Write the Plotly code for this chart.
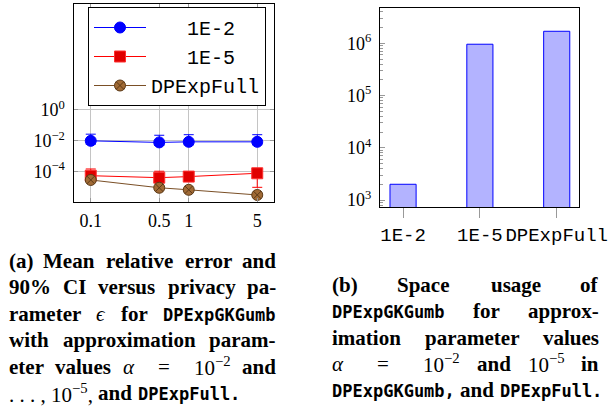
import re
import plotly.graph_objects as go

# ---------------- data ----------------
eps = [0.1, 0.5, 1, 5]
eps_labels = ["0.1", "0.5", "1", "5"]

err_1e2 = [0.0100, 0.0079, 0.0086, 0.0086]
err_1e2_hi = [0.027, 0.023, 0.025, 0.025]
err_1e2_lo = [0.006, 0.005, 0.0055, 0.0055]

err_1e5 = [5.5e-5, 4.1e-5, 4.8e-5, 7.9e-5]
err_1e5_hi = [1.5e-4, 1.07e-4, 1.0e-4, 1.0e-4]
err_1e5_lo = [3.5e-5, 2.6e-5, 3.0e-5, 9.7e-6]

err_full = [2.9e-5, 9.1e-6, 6.7e-6, 3.1e-6]

space_cats = ["1E-2", "1E-5", "DPExpFull"]
space_vals = [2000, 9.6e5, 1.7e6]

err_ticks = [1e-4, 1e-2, 1]
err_ticktext = ["10<sup>−4</sup>", "10<sup>−2</sup>", "10<sup>0</sup>"]
space_ticks = [1e3, 1e4, 1e5, 1e6]
space_ticktext = ["10<sup>3</sup>", "10<sup>4</sup>", "10<sup>5</sup>", "10<sup>6</sup>"]

# caption words per line (text, kind): b = bold serif, m = bold mono, r = regular math
cap_a_lines = [
    [("(a)", "b"), ("Mean", "b"), ("relative", "b"), ("error", "b"), ("and", "b")],
    [("90%", "b"), ("CI", "b"), ("versus", "b"), ("privacy", "b"), ("pa-", "b")],
    [("rameter", "b"), ("<i>ϵ</i>", "r"), ("for", "b"), ("DPExpGKGumb", "m")],
    [("with", "b"), ("approximation", "b"), ("param-", "b")],
    [("eter", "b"), ("values", "b"), ("<i>α</i>", "r"), ("=", "r"), ("10<sup>−2</sup>", "r"), ("and", "b")],
    [(". . . , 10<sup>−5</sup>,", "r"), ("and", "b"), ("DPExpFull.", "m")],
]
cap_b_lines = [
    [("(b)", "b"), ("Space", "b"), ("usage", "b"), ("of", "b")],
    [("DPExpGKGumb", "m"), ("for", "b"), ("approx-", "b")],
    [("imation", "b"), ("parameter", "b"), ("values", "b")],
    [("<i>α</i>", "r"), ("=", "r"), ("10<sup>−2</sup>", "r"), ("and", "b"), ("10<sup>−5</sup>", "r"), ("in", "b")],
    [("DPExpGKGumb,", "m"), ("and", "b"), ("DPExpFull.", "m")],
]

# ---------------- helpers ----------------
W, H = 609, 408


def px(x):
    return x / W


def py(y):
    return 1 - y / H


SERIF = "Liberation Serif"
MONO = "Liberation Mono"
CAPMONO = "DejaVu Sans Mono"
GRID = "#c4c4c4"
CAP_SIZE = 21
MONO_SIZE = 17

fig = go.Figure()

fig.add_trace(go.Scatter(
    x=eps, y=err_1e2, name="\u00a0\u00a0\u00a01E-2", mode="lines+markers",
    line=dict(color="#0000ff", width=1),
    marker=dict(symbol="circle", size=11, color="#0000ff", line=dict(color="#0000ff", width=1)),
    error_y=dict(type="data", symmetric=False,
                 array=[h - v for h, v in zip(err_1e2_hi, err_1e2)],
                 arrayminus=[v - l for v, l in zip(err_1e2, err_1e2_lo)],
                 color="#0000ff", thickness=1, width=5),
    xaxis="x", yaxis="y"))

fig.add_trace(go.Scatter(
    x=eps, y=err_1e5, name="\u00a0\u00a0\u00a01E-5", mode="lines+markers",
    line=dict(color="#ff0000", width=1),
    marker=dict(symbol="square", size=11, color="#e00000", line=dict(color="#ff3030", width=1)),
    error_y=dict(type="data", symmetric=False,
                 array=[h - v for h, v in zip(err_1e5_hi, err_1e5)],
                 arrayminus=[v - l for v, l in zip(err_1e5, err_1e5_lo)],
                 color="#ff0000", thickness=1, width=5),
    xaxis="x", yaxis="y"))

fig.add_trace(go.Scatter(
    x=eps, y=err_full, name="DPExpFull", mode="lines+markers",
    line=dict(color="#7a4f26", width=1),
    marker=dict(symbol="circle-x", size=11, color="#a06a35", line=dict(color="#5c3a18", width=1)),
    xaxis="x", yaxis="y"))

fig.add_trace(go.Bar(
    x=space_cats, y=space_vals, width=0.34, showlegend=False,
    marker=dict(color="rgb(179,179,255)", line=dict(color="#0000ff", width=1)),
    xaxis="x2", yaxis="y2"))

minor_vals = [k * 10 ** d for d in range(2, 7) for k in range(2, 10)]

fig.update_layout(
    width=W, height=H, margin=dict(l=0, r=0, t=0, b=0, autoexpand=False),
    paper_bgcolor="white", plot_bgcolor="white",
    showlegend=True,
    legend=dict(x=px(88), y=py(7), xanchor="left", yanchor="top",
                bgcolor="white", bordercolor="black", borderwidth=1,
                font=dict(family=MONO, size=20, color="black"),
                itemwidth=52, tracegroupgap=0),
    xaxis=dict(type="log", domain=[px(73.5), px(274)], range=[-1.176, 0.870], automargin=False,
               tickmode="array", tickvals=eps, ticktext=eps_labels,
               showgrid=True, gridcolor=GRID, gridwidth=1, zeroline=False,
               ticks="inside", ticklen=4, tickcolor="#999999", ticklabelstandoff=2,
               showline=True, linecolor="black", linewidth=1, mirror="ticks",
               tickfont=dict(family=SERIF, size=18, color="black"), anchor="y"),
    yaxis=dict(type="log", domain=[py(202), py(4)], range=[-5.965, 6.87], automargin=False,
               tickmode="array", tickvals=err_ticks, ticktext=err_ticktext,
               showgrid=True, gridcolor=GRID, gridwidth=1, zeroline=False,
               ticks="inside", ticklen=4, tickcolor="#999999", ticklabelstandoff=4,
               showline=True, linecolor="black", linewidth=1, mirror="ticks",
               tickfont=dict(family=SERIF, size=18, color="black"), anchor="x"),
    xaxis2=dict(type="category", domain=[px(380), px(579)], range=[-0.3, 2.29], automargin=False,
                showgrid=False, zeroline=False, tickangle=0,
                ticks="outside", ticklen=10, tickcolor="#999999", ticklabelstandoff=0,
                showline=True, linecolor="black", linewidth=1, mirror=True,
                tickfont=dict(family=MONO, size=19, color="black"), anchor="y2"),
    yaxis2=dict(type="log", domain=[py(207), py(8)], range=[2.866, 6.676], automargin=False,
                tickmode="array", tickvals=space_ticks, ticktext=space_ticktext,
                showgrid=False, zeroline=False,
                ticks="inside", ticklen=5, tickcolor="#999999", ticklabelstandoff=4,
                minor=dict(tickmode="array", tickvals=minor_vals, ticks="inside",
                           ticklen=3, tickcolor="#999999", showgrid=False),
                showline=True, linecolor="black", linewidth=1, mirror=True,
                tickfont=dict(family=SERIF, size=18, color="black"), anchor="x2"),
)

# ---------------- caption layout (justified text) ----------------
TB = {"(": 333, ")": 333, "a": 500, "b": 556, "c": 444, "d": 556, "e": 444, "f": 333, "g": 500,
      "h": 556, "i": 278, "l": 278, "m": 833, "n": 556, "o": 500, "p": 556, "r": 444, "s": 389,
      "t": 333, "u": 556, "v": 500, "w": 722, "x": 500, "y": 500, "M": 944, "C": 722, "I": 389,
      "S": 556, "%": 1000, "-": 333, ",": 250, ".": 250, " ": 250}
TR = {"α": 520, "ϵ": 440, "=": 564, "−": 564, ".": 250, ",": 250, " ": 250}


def word_width(text, kind):
    if kind == "m":
        return len(re.sub(r"<[^>]+>", "", text)) * 0.602 * MONO_SIZE
    table = TB if kind == "b" else TR
    total = 0.0
    for m in re.finditer(r"<sup>(.*?)</sup>|(<[^>]+>)|([^<]+)", text):
        if m.group(1) is not None:
            part, f = m.group(1), 0.7
        elif m.group(3) is not None:
            part, f = m.group(3), 1.0
        else:
            continue
        for ch in part:
            total += table.get(ch, 500) * f
    return total / 1000.0 * CAP_SIZE


def add_caption(lines, x0, x1, y0, dy, last_gap=5.5):
    for li, words in enumerate(lines):
        y = y0 + li * dy
        widths = [word_width(t, k) for t, k in words]
        weights = []
        for i in range(len(words) - 1):
            wgt = 2.0 if (words[i][0] == "=" or words[i + 1][0] == "=") else 1.0
            weights.append(wgt)
        justify = li < len(lines) - 1
        unit = ((x1 - x0) - sum(widths)) / sum(weights) if justify else last_gap
        x = x0
        for i, (text, kind) in enumerate(words):
            w = widths[i]
            if justify and i == len(words) - 1:
                xa, anchor = x1, "right"
            elif justify and i > 0:
                xa, anchor = x + w / 2, "center"
            else:
                xa, anchor = x, "left"
            if kind == "m":
                font = dict(family=CAPMONO, size=MONO_SIZE, color="black")
                txt = "<b>" + text + "</b>"
                yy = y + 1
            elif kind == "b":
                font = dict(family=SERIF, size=CAP_SIZE, color="black")
                txt = "<b>" + text + "</b>"
                yy = y
            else:
                font = dict(family=SERIF, size=CAP_SIZE, color="black")
                txt = text
                yy = y
            fig.add_annotation(x=px(xa), y=py(yy), xref="paper", yref="paper",
                               xanchor=anchor, yanchor="middle", text=txt,
                               showarrow=False, font=font, borderpad=0)
            if i < len(words) - 1:
                x += w + unit * weights[i]


add_caption(cap_a_lines, 8, 277, 261, 26.4)
add_caption(cap_b_lines, 331, 600, 285, 26.3)

fig.write_html("out.html", config={"displayModeBar": False},
               post_script="document.body.style.margin='0';document.body.style.overflow='hidden';")
